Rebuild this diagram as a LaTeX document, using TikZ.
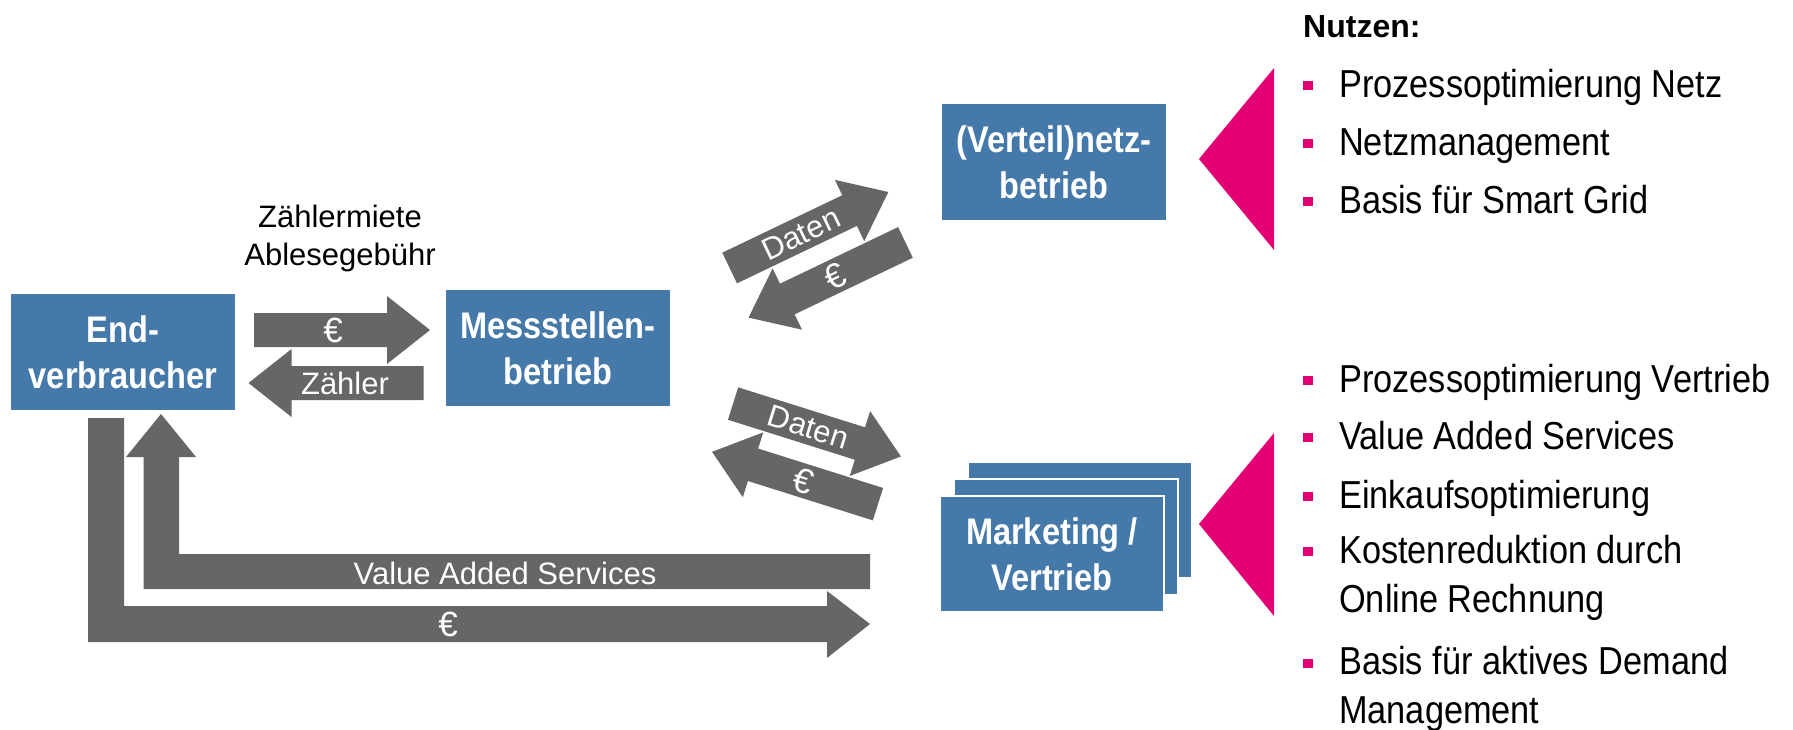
\documentclass[tikz,border=0pt]{standalone}
\usepackage{fontspec}
\setmainfont{Liberation Sans}
\newfontfamily\narrowfont[FakeStretch=0.88]{Liberation Sans}
\definecolor{boxblue}{RGB}{68,121,170}
\definecolor{arrowgray}{RGB}{102,102,102}
\definecolor{tmagenta}{RGB}{226,0,116}
\newcommand\bigeuro{{\fontsize{35}{38}\selectfont €}}

\begin{document}
\begin{tikzpicture}[
    x=1pt, y=-1pt,
    box/.style={fill=boxblue,text=white,align=center,inner sep=0pt,
      minimum width=224pt,minimum height=116pt,
      font=\narrowfont\bfseries\fontsize{37}{46}\selectfont},
    stack/.style={box,draw=white,line width=1.5pt},
    lbl/.style={text=white,inner sep=0pt,align=center,font=\fontsize{31}{38}\selectfont},
    item/.style={anchor=base west,inner sep=0pt,align=left,
      font=\narrowfont\fontsize{39}{49}\selectfont},
    wedge/.style={fill=tmagenta},
    band/.style={fill=arrowgray},
    pics/rarrow/.style 2 args={code={
      \fill[band] ({-#1/2},-17) -- ({#1/2-43},-17) -- ({#1/2-43},-34) -- ({#1/2},0)
        -- ({#1/2-43},34) -- ({#1/2-43},17) -- ({-#1/2},17) -- cycle;
      \node[lbl,transform shape] (-txt) at (-9,0) {#2};}},
    pics/larrow/.style 2 args={code={
      \fill[band] ({#1/2},-17) -- ({-#1/2+43},-17) -- ({-#1/2+43},-34) -- ({-#1/2},0)
        -- ({-#1/2+43},34) -- ({-#1/2+43},17) -- ({#1/2},17) -- cycle;
      \node[lbl,transform shape] (-txt) at (9,0) {#2};}}]
  \useasboundingbox (0,0) rectangle (1793,729);
  \node[box] (ev) at (123,352) {End-\\verbraucher};
  \node[box] (msb) at (558,348) {Messstellen-\\betrieb};
  \node[box] (vnb) at (1054,162) {(Verteil)netz-\\betrieb};
  \node[stack] (mvback) at (1080,520) {};
  \node[stack] (mvmid) at (1066,537) {};
  \node[stack] (mv) at (1052,554) {Marketing /\\Vertrieb};
  \node[anchor=base,inner sep=0pt,align=center,font=\fontsize{31}{38}\selectfont]
    (fees) at (340,265) {Zählermiete\\Ablesegebühr};
  \pic (payme) at (342,330) {rarrow={176}{\bigeuro}};
  \pic (meter) at (336,383) {larrow={175}{Zähler}};
  \pic[rotate=25.6] (datanet) at (809,230) {rarrow={176}{Daten}};
  \pic[rotate=25.6] (paynet) at (827,280) {larrow={174}{\bigeuro}};
  \pic[rotate=-17.5] (datamv) at (817,430) {rarrow={176}{Daten}};
  \pic[rotate=-17.5] (paymv) at (795,478) {larrow={174}{\bigeuro}};
  \fill[band] (870,554) -- (179,554) -- (179,457) -- (196,457) -- (161,414)
    -- (126,457) -- (143.5,457) -- (143.5,589) -- (870,589) -- cycle;
  \node[lbl] (vas) at (505,573) {Value Added Services};
  \fill[band] (88,418) -- (88,642) -- (827,642) -- (827,658) -- (870,624)
    -- (827,591) -- (827,606) -- (124,606) -- (124,418) -- cycle;
  \node[lbl] (payev) at (448,624) {\bigeuro};
  \fill[wedge] (1274,68) -- (1274,250) -- (1199,159) -- cycle;
  \fill[wedge] (1274,433) -- (1274,616) -- (1199,524) -- cycle;
  \node[anchor=base west,inner sep=0pt,font=\bfseries\fontsize{32}{38}\selectfont]
    (nutzen) at (1303,37) {Nutzen:};
  \foreach \txt/\yb/\yl [count=\i] in {Prozessoptimierung Netz/97/97,
      Netzmanagement/155/155, Basis für Smart Grid/213/213,
      Prozessoptimierung Vertrieb/392/392, Value Added Services/449/449,
      Einkaufsoptimierung/508/508,
      {Kostenreduktion durch\\Online Rechnung}/563/612,
      {Basis für aktives Demand\\Management}/675/723} {
    \fill[tmagenta] (1303,\yb-16) rectangle ++(9.5,9);
    \node[item] (pt\i) at (1339,\yl) {\txt};
  }
\end{tikzpicture}
\end{document}
